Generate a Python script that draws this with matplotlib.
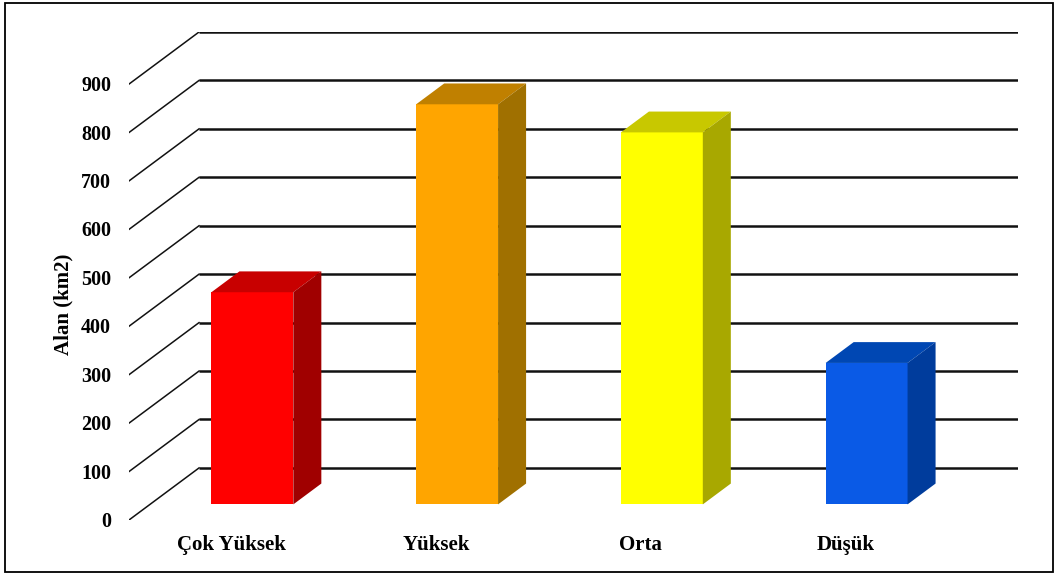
import matplotlib
matplotlib.use('Agg')
import matplotlib.pyplot as plt
from matplotlib.patches import Polygon, Rectangle

categories = ['Çok Yüksek', 'Yüksek', 'Orta', 'Düşük']
values = [438, 826, 768, 292]
yticks = [0, 100, 200, 300, 400, 500, 600, 700, 800, 900]

front_colors = ['#ff0000', '#ffa500', '#ffff00', '#0a5ae6']
top_colors = ['#c80000', '#c08000', '#c8c800', '#0047b3']
side_colors = ['#a00000', '#a07000', '#a8a800', '#003c9c']

W, H = 1058, 574
DX = 0.342    # depth of the floor, in category units
DY = 107.5    # depth of the floor, in value units
BAR_W = 0.4
Z0, Z1 = 0.3, 0.7  # bar sits in the middle of the depth

plt.rcParams['font.family'] = ['Liberation Serif', 'DejaVu Serif']
plt.rcParams['font.weight'] = 'bold'

fig = plt.figure(figsize=(W / 100, H / 100), dpi=100)
ax = fig.add_axes([129 / W, (H - 520) / H, (1018 - 129) / W, (520 - 32) / H])
ax.set_xlim(-0.5, 3.5 + DX)
ax.set_ylim(0, 900 + DY)
ax.axis('off')

# back wall gridlines + oblique side lines
for v in yticks:
    ax.plot([-0.5 + DX, 3.5 + DX], [v + DY, v + DY], color='#111111', lw=1.8,
            solid_capstyle='butt', zorder=1)
    ax.plot([-0.5, -0.5 + DX], [v, v + DY], color='#111111', lw=1.1, zorder=1)
    ax.annotate(str(v), xy=(-0.5, v), xytext=(-18, -2), textcoords='offset pixels',
                ha='right', va='center', fontsize=14.5, fontweight='bold')

# 3d bars
dz = Z1 - Z0
for i, v in enumerate(values):
    x0 = i - BAR_W / 2 + Z0 * DX
    y0 = Z0 * DY
    ax.add_patch(Rectangle((x0, y0), BAR_W, v, facecolor=front_colors[i],
                           edgecolor='none', zorder=3))
    top = [(x0, y0 + v), (x0 + BAR_W, y0 + v),
           (x0 + BAR_W + dz * DX, y0 + v + dz * DY), (x0 + dz * DX, y0 + v + dz * DY)]
    ax.add_patch(Polygon(top, closed=True, facecolor=top_colors[i],
                         edgecolor='none', zorder=3))
    side = [(x0 + BAR_W, y0), (x0 + BAR_W + dz * DX, y0 + dz * DY),
            (x0 + BAR_W + dz * DX, y0 + v + dz * DY), (x0 + BAR_W, y0 + v)]
    ax.add_patch(Polygon(side, closed=True, facecolor=side_colors[i],
                         edgecolor='none', zorder=3))
    ax.annotate(categories[i], xy=(i, 0), xytext=(0, -25), textcoords='offset pixels',
                ha='center', va='center', fontsize=15, fontweight='bold')

fig.text(63 / W, 1 - 304 / H, 'Alan (km2)', rotation=90, ha='center', va='center',
         fontsize=15, fontweight='bold')

# outer frame
fig.add_artist(Rectangle((5 / W, 2.5 / H), (1053 - 5) / W, (571.5 - 3) / H,
                         fill=False, lw=1.3, edgecolor='black',
                         transform=fig.transFigure))

fig.savefig('out.png', dpi=100)
